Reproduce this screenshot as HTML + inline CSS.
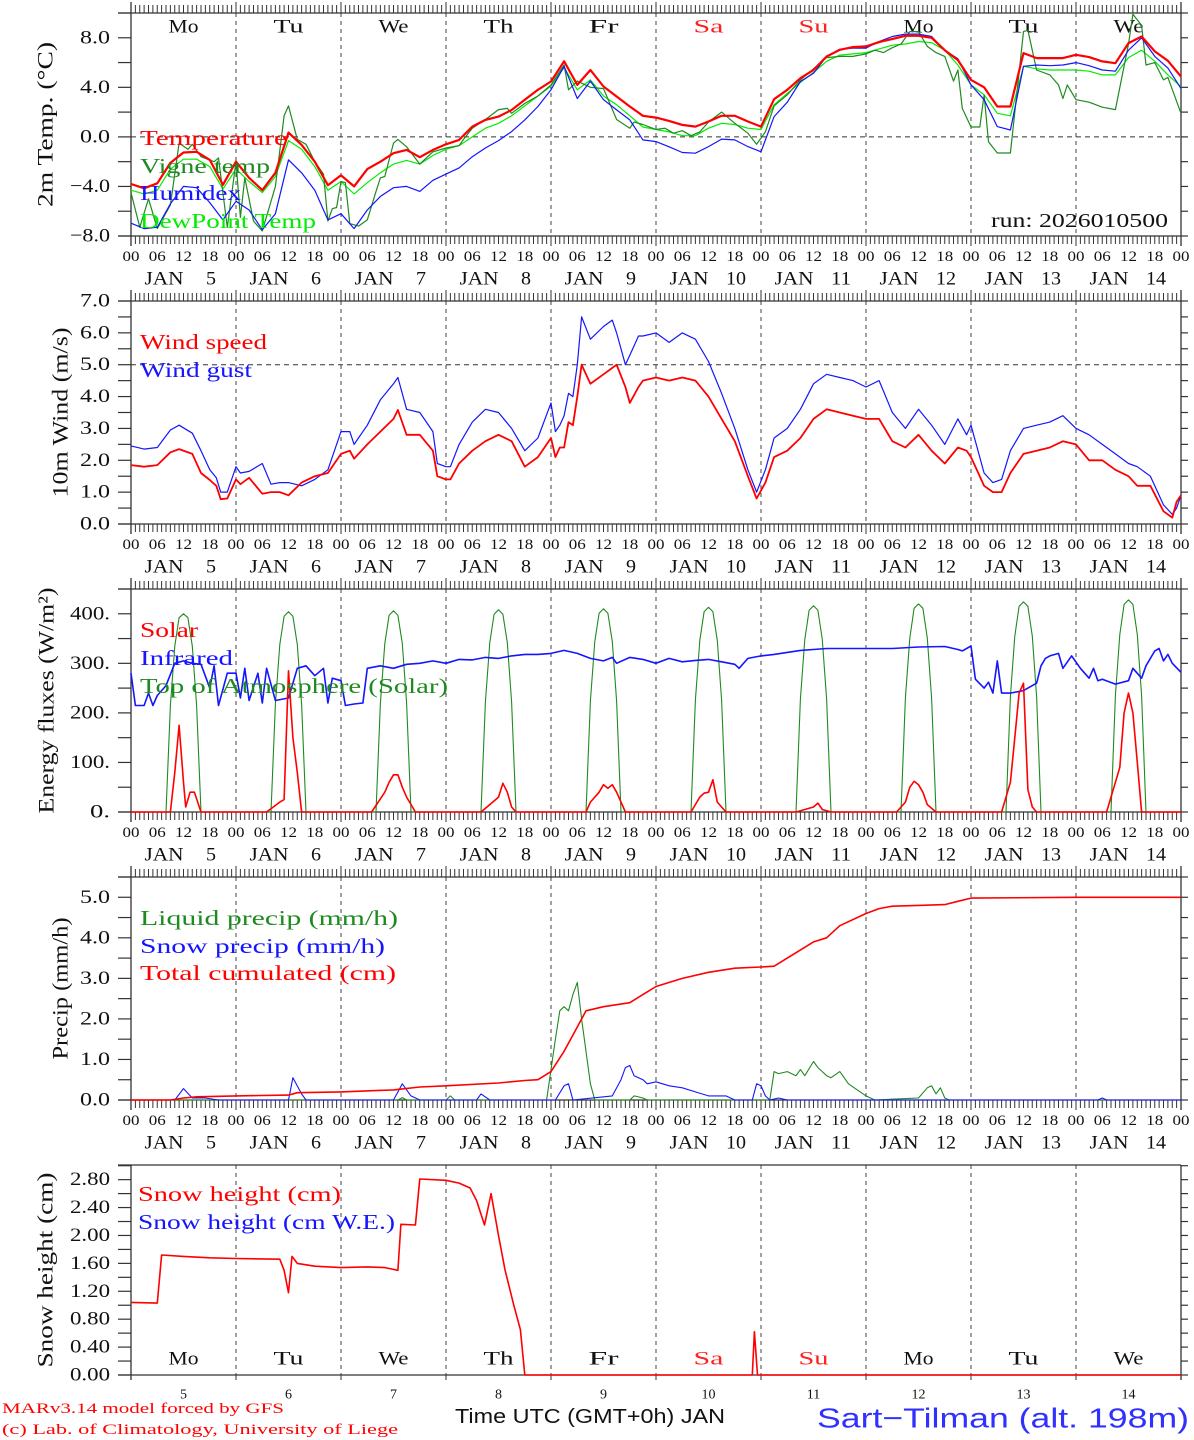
<!DOCTYPE html>
<html><head><meta charset="utf-8"><title>MAR meteogram Sart-Tilman</title>
<style>
html,body{margin:0;padding:0;background:#fff;}
svg{display:block;font-family:"Liberation Serif",serif;}
</style></head>
<body>
<svg id="chart" width="1194" height="1440" viewBox="0 0 1194 1440" xmlns="http://www.w3.org/2000/svg"></svg>
<script>
// ---------- DATA ----------
const dayNames = ["Mo","Tu","We","Th","Fr","Sa","Su","Mo","Tu","We"];
const dayNums = ["5","6","7","8","9","10","11","12","13","14"];
const hours3 = [0,3,6,9,12,15,18,21,24,27,30,33,36,39,42,45,48,51,54,57,60,63,66,69,72,75,78,81,84,87,90,93,96,99,102,105,108,111,114,117,120,123,126,129,132,135,138,141,144,147,150,153,156,159,162,165,168,171,174,177,180,183,186,189,192,195,198,201,204,207,210,213,216,219,222,225,228,231,234,237,240];
const tempVals = [-3.8,-4.15,-3.75,-2.1,-1.26,-1.2,-1.86,-3.87,-2.0,-3.3,-4.3,-2.9,0.35,-0.65,-2.0,-3.9,-3.1,-4.0,-2.6,-2.0,-1.32,-1.05,-1.64,-1.05,-0.6,-0.24,0.83,1.37,1.64,2.17,2.99,3.8,4.47,6.1,4.2,5.4,4.07,3.26,2.45,1.7,1.56,1.29,0.97,0.83,1.24,1.7,1.7,1.24,0.83,3.04,3.8,4.74,5.41,6.49,7.03,7.25,7.3,7.65,7.9,8.16,8.16,8.0,7.0,6.2,4.6,4.0,2.45,2.45,6.76,6.36,6.36,6.36,6.63,6.44,6.09,5.95,7.57,8.1,6.9,6.14,4.87];
const dewVals = [-4.3,-4.6,-4.3,-2.6,-1.8,-1.8,-2.4,-4.2,-2.6,-3.6,-4.5,-3.2,-0.3,-1.0,-2.4,-4.3,-3.6,-4.6,-3.7,-2.9,-2.2,-1.9,-2.2,-1.5,-1.0,-0.7,0.0,0.7,1.1,1.7,2.5,3.3,4.1,5.6,3.8,4.6,3.3,2.6,1.7,0.8,0.6,0.4,0.1,0.1,0.7,1.1,1.0,0.7,0.6,2.6,3.5,4.4,5.2,6.1,6.6,6.7,6.8,7.1,7.4,7.5,7.7,7.6,7.0,5.8,4.2,3.4,1.9,1.7,5.7,5.5,5.4,5.4,5.4,5.3,5.0,5.0,6.4,7.0,6.1,5.0,4.05];
const humidexVals = [-6.97,-7.4,-7.3,-5.4,-4.0,-4.1,-5.3,-6.7,-5.2,-5.9,-7.5,-6.2,-1.85,-2.9,-4.3,-6.7,-6.2,-7.4,-5.9,-4.8,-4.1,-4.0,-4.4,-3.5,-3.0,-2.5,-1.6,-0.9,-0.3,0.43,1.37,2.45,3.8,5.7,3.1,4.5,3.0,2.18,1.37,-0.24,-0.38,-0.8,-1.26,-1.32,-0.78,-0.18,-0.24,-0.78,-1.2,1.64,2.8,4.47,5.14,6.49,7.08,7.17,7.17,7.7,8.1,8.3,8.3,8.1,7.0,6.3,4.2,3.0,0.83,0.56,5.7,5.8,5.75,5.8,6.0,5.75,5.4,5.3,7.0,8.0,6.5,5.55,3.9];
const vigneHours = [0,2,4,6,9,11,13,14,16,19,20,22,24,25,26,28,30,33,35,36,38,40,42,44,45,46,47,48,49,50,52,54,56,57,58,60,61,63,66,69,72,75,76,78,81,84,86,87,90,93,96,99,100,102,105,108,111,114,115,117,120,122,124,126,128,130,132,135,138,141,143,145,147,150,153,156,159,162,165,168,170,172,174,176,178,180,182,184,186,188,189,190,192,194,195,196,198,201,204,205,207,210,212,213,214,216,219,222,225,228,229,231,232,234,236,237,240];
const vigneVals = [-4.5,-7.3,-5.0,-7.4,-5.5,-0.5,-1.0,-0.6,-1.6,-2.0,-1.7,-7.3,-2.0,-6.5,-3.3,-6.8,-7.6,-4.0,1.7,2.5,-0.2,-0.6,-2.0,-3.0,-6.8,-5.8,-5.7,-3.6,-3.7,-7.0,-7.2,-6.7,-4.4,-3.3,-3.2,-0.5,-0.2,-0.8,-2.2,-1.2,-0.9,-0.7,-0.2,0.7,1.4,2.2,2.3,1.9,2.7,3.3,4.2,5.8,3.8,4.5,4.0,3.9,1.4,0.7,1.2,1.0,0.6,0.7,0.3,0.5,0.1,0.4,1.2,2.0,1.1,0.3,-0.6,0.4,2.5,3.4,4.6,5.5,6.4,6.5,6.5,6.7,7.0,6.8,7.2,7.5,8.5,8.5,7.3,6.8,6.5,4.5,5.4,2.3,0.8,0.8,3.4,-0.4,-1.3,-1.3,8.5,8.6,5.4,5.0,4.2,3.1,4.2,3.0,2.8,2.4,2.2,7.5,9.9,9.0,5.8,6.0,4.6,4.8,1.9];
const windHours = [0,3,6,9,11,14,16,18,19.5,20.5,22,24,25,27,30,32,34,36,39,42,45,48,50,51,54,57,60,61,63,66,69,70,72,73,75,78,81,84,87,90,93,96,97,98,99,100,101,102,103,105,108,110,111,113,114,116,117,120,123,126,129,132,135,138,141,143,145,147,150,153,156,159,162,165,168,171,174,177,180,183,186,189,191,192,195,197,199,201,204,207,210,213,216,219,222,225,228,230,233,236,238,239,240];
const windSpeed = [1.85,1.8,1.85,2.25,2.35,2.2,1.6,1.38,1.2,0.78,0.8,1.4,1.25,1.45,0.95,1.0,1.0,0.9,1.3,1.5,1.6,2.2,2.3,2.05,2.5,2.9,3.3,3.58,2.8,2.8,2.3,1.5,1.4,1.4,1.9,2.3,2.6,2.8,2.6,1.8,2.1,2.7,2.1,2.4,2.4,3.2,3.1,4.0,5.0,4.4,4.7,4.9,5.0,4.3,3.8,4.3,4.5,4.6,4.5,4.6,4.5,4.0,3.3,2.6,1.5,0.8,1.3,2.1,2.3,2.7,3.3,3.6,3.5,3.4,3.3,3.3,2.6,2.4,2.8,2.3,1.9,2.4,2.3,2.1,1.2,1.0,1.0,1.6,2.2,2.3,2.4,2.6,2.5,2.0,2.0,1.7,1.5,1.2,1.2,0.4,0.2,0.7,0.9];
const windGust = [2.45,2.35,2.4,2.95,3.1,2.85,2.3,1.7,1.45,1.0,1.0,1.8,1.6,1.65,1.9,1.25,1.3,1.3,1.2,1.4,1.7,2.9,2.9,2.5,3.1,3.9,4.4,4.6,3.6,3.5,2.9,1.9,1.8,1.8,2.5,3.2,3.6,3.5,3.0,2.3,2.7,3.8,2.9,3.1,3.4,4.1,4.0,5.0,6.5,5.8,6.2,6.4,6.0,5.0,5.3,5.9,5.9,6.0,5.7,6.0,5.8,5.1,4.1,3.0,1.7,1.0,1.7,2.7,3.0,3.6,4.4,4.7,4.6,4.5,4.3,4.5,3.5,3.0,3.6,3.1,2.5,3.3,2.8,3.1,1.6,1.3,1.4,2.3,3.0,3.1,3.2,3.4,3.0,2.8,2.5,2.2,1.9,1.8,1.5,0.6,0.3,0.5,0.9];
const irHours = [0,1,3,4,5,6,8,10,12,14,16,18,19,20,22,24,25,26,27,29,30,31,33,36,38,40,42,44,45,46,48,49,51,53,54,57,60,63,66,69,72,75,78,81,84,87,90,93,96,99,102,105,108,110,111,114,117,120,123,126,129,132,135,138,139,141,144,147,150,153,156,159,162,168,174,180,186,189,190,192,193,195,196,197,198,199,201,204,207,208,209,210,212,213,215,217,219,220,221,222,225,228,229,231,232,234,235,236,237,238,240];
const irVals = [280,215,215,240,215,235,255,300,305,300,298,250,295,215,280,280,230,290,225,280,220,290,225,230,290,295,275,290,220,270,265,215,218,220,290,295,290,298,300,305,300,308,307,312,310,315,318,318,320,326,320,310,305,312,300,312,308,300,310,303,306,308,303,298,290,310,315,318,322,326,328,330,330,330,330,333,334,328,325,335,268,250,262,240,305,240,240,245,260,295,310,315,320,290,315,290,270,290,265,268,258,265,290,270,295,325,330,305,318,300,282];
const solarHours = [0,9,10,11,12,12.5,13.5,14.5,16,31,34,35,36,37,38,39,55,58,59,60,61,62,63,65,80,82,84,85,86,87,88,104,105,107,108,109,110,111,112,113,128,130,131,132,133,134,136,152,154,156,157,158,160,175,177,178,179,180,181,182,184,199,201,202,203,204,205,206,207,223,225,226,227,228,229,230,231,240];
const solarVals = [0,0,80,175,60,10,40,40,0,0,20,25,285,150,80,0,0,40,60,75,75,50,30,0,0,15,30,58,40,10,0,0,20,40,55,48,55,40,20,0,0,30,38,40,65,20,0,0,5,10,18,5,0,0,20,50,62,55,40,15,0,0,60,150,240,260,45,10,0,0,60,90,200,240,200,100,0,0];
const toaHours = [0,8,9,10,11,12,13,14,15,16,32,33,34,35,36,37,38,39,40,56,57,58,59,60,61,62,63,64,80,81,82,83,84,85,86,87,88,104,105,106,107,108,109,110,111,112,128,129,130,131,132,133,134,135,136,152,153,154,155,156,157,158,159,160,176,177,178,179,180,181,182,183,184,200,201,202,203,204,205,206,207,208,224,225,226,227,228,229,230,231,232,240];
const toaVals = [0,0,215,335,392,400,392,335,215,0,0,218,338,395,404,395,338,218,0,0,220,340,397,406,397,340,220,0,0,222,342,399,408,399,342,222,0,0,224,344,401,410,401,344,224,0,0,226,346,404,413,404,346,226,0,0,228,348,407,416,407,348,228,0,0,230,351,411,420,411,351,230,0,0,233,355,415,424,415,355,233,0,0,235,358,419,428,419,358,235,0,0];
const precipHours = [0,9,12,15,24,36,38,48,60,66,72,84,90,93,96,99,102,104,108,114,117,120,126,132,138,144,147,150,156,159,162,168,171,174,180,186,189,192,216,240];
const totalCum = [0,0,0.05,0.08,0.1,0.12,0.18,0.2,0.25,0.32,0.35,0.42,0.48,0.5,0.7,1.2,1.8,2.2,2.3,2.4,2.6,2.8,3.0,3.15,3.25,3.28,3.3,3.5,3.9,4.0,4.3,4.6,4.72,4.78,4.8,4.82,4.9,4.98,5.0,5.0];
const liquidHours = [0,61,62,63,72,73,74,95,97,98,99,100,101,102,103,104,105,106,114,115,117,118,146,147,148,150,152,153,154,156,157,158,159,160,162,164,166,168,170,180,182,183,184,185,186,187,240];
const liquidVals = [0,0,0.06,0,0,0.1,0,0,1.5,2.2,2.3,2.2,2.6,2.9,2.0,1.2,0.4,0,0,0.1,0.05,0,0,0.7,0.65,0.7,0.6,0.75,0.6,0.95,0.8,0.7,0.6,0.55,0.7,0.4,0.25,0.1,0,0.05,0.3,0.35,0.15,0.3,0.05,0,0];
const snowPHours = [0,10,12,14,17,20,36,37,39,40,60,62,64,66,79,80,82,97,99,100,101,110,112,113,114,115,117,118,120,123,126,129,132,136,138,142,143,144,145,146,148,150,221,222,223,240];
const snowPVals = [0,0,0.28,0.05,0.05,0,0,0.55,0.15,0,0,0.4,0.1,0,0,0.15,0,0,0.35,0.4,0,0.1,0.5,0.8,0.85,0.6,0.5,0.4,0.45,0.35,0.3,0.2,0.1,0.1,0,0,0.4,0.35,0.1,0,0.05,0,0,0.05,0,0];
const snowHHours = [0,6,7,12,18,24,34,35,36,36.8,38,42,48,54,58,61,61.7,65,66,72,75,77.5,79,80.8,82.3,84,85.5,87.5,89,90,142,142.5,143.2,240];
const snowHVals = [1.04,1.03,1.72,1.70,1.68,1.67,1.66,1.5,1.18,1.70,1.6,1.56,1.54,1.55,1.54,1.50,2.16,2.15,2.81,2.79,2.75,2.68,2.5,2.15,2.6,2.0,1.5,1.0,0.65,0,0,0.62,0,0];
const p1LabelVals = [-8,-4,0,4,8];
const p1Labels = ["−8.0","−4.0","0.0","4.0","8.0"];
const p2LabelVals = [0,1,2,3,4,5,6,7];
const p2Labels = ["0.0","1.0","2.0","3.0","4.0","5.0","6.0","7.0"];
const p3LabelVals = [0,100,200,300,400];
const p3Labels = ["0.","100.","200.","300.","400."];
const p4LabelVals = [0,1,2,3,4,5];
const p4Labels = ["0.0","1.0","2.0","3.0","4.0","5.0"];
const p5LabelVals = [0,0.4,0.8,1.2,1.6,2.0,2.4,2.8];
const p5Labels = ["0.00","0.40","0.80","1.20","1.60","2.00","2.40","2.80"];

// ---------- DRAWING ----------
const NS = "http://www.w3.org/2000/svg";
const svg = document.getElementById("chart");
const X0 = 131, X1 = 1181;
const X = h => X0 + h * (X1 - X0) / 240;

function mk(tag, attrs, parent, name) {
  const el = document.createElementNS(NS, tag);
  for (const k in attrs) el.setAttribute(k, attrs[k]);
  
  
  (parent || svg).appendChild(el);
  return el;
}
function txt(x, y, s, size, color, anchor, name, len, extra) {
  const a = {x: x, y: y, "font-size": size, fill: color, "text-anchor": anchor || "start", "dominant-baseline": "central"};
  if (len) { a.textLength = len; a.lengthAdjust = "spacingAndGlyphs"; }
  if (extra) for (const k in extra) a[k] = extra[k];
  const t = mk("text", a, svg, name);
  t.textContent = s;
  return t;
}
function line(x1, y1, x2, y2, stroke, w, name, dash) {
  const a = {x1: x1, y1: y1, x2: x2, y2: y2, stroke: stroke, "stroke-width": w};
  if (dash) a["stroke-dasharray"] = dash;
  return mk("line", a, svg, name);
}
function series(hs, vs, Y, color, w, name) {
  let d = "";
  for (let i = 0; i < hs.length; i++) d += (i ? "L" : "M") + X(hs[i]).toFixed(1) + "," + Y(vs[i]).toFixed(1);
  return mk("path", {d: d, fill: "none", stroke: color, "stroke-width": w, "stroke-linejoin": "round"}, svg, name);
}

const panels = [
  {id: "temp", top: 13, bot: 236, min: -8, max: 10, minorStep: 2, lv: p1LabelVals, lb: p1Labels, title: "2m Temp. (°C)", tx: 45, tl: 165, hourTicks: true},
  {id: "wind", top: 301, bot: 524, min: 0, max: 7, minorStep: 0.5, lv: p2LabelVals, lb: p2Labels, title: "10m Wind (m/s)", tx: 60, tl: 170, hourTicks: true},
  {id: "energy", top: 589, bot: 812, min: 0, max: 450, minorStep: 50, lv: p3LabelVals, lb: p3Labels, title: "Energy fluxes (W/m²)", tx: 46, tl: 226, hourTicks: true},
  {id: "precip", top: 877, bot: 1100, min: 0, max: 5.5, minorStep: 0.5, lv: p4LabelVals, lb: p4Labels, title: "Precip (mm/h)", tx: 60, tl: 142, hourTicks: true},
  {id: "snow", top: 1165, bot: 1375, min: 0, max: 3.01, minorStep: 0.2, lv: p5LabelVals, lb: p5Labels, title: "Snow height (cm)", tx: 45, tl: 195, hourTicks: false}
];
panels.forEach(p => { p.Y = v => p.bot - (v - p.min) / (p.max - p.min) * (p.bot - p.top); });

panels.forEach(p => {
  for (let d = 1; d < 10; d++) line(X(d * 24), p.top, X(d * 24), p.bot, "#444", 1, p.id + "-day-gridline", "4,4");
  line(118, p.top, X1, p.top, "#333", 1.3, p.id + "-frame-top");
  line(118, p.bot, X1, p.bot, "#333", 1.3, p.id + "-frame-bottom");
  line(X0, p.hourTicks ? p.top - 11 : p.top, X0, p.bot + (p.hourTicks ? 10 : 5), "#333", 1.3, p.id + "-y-axis");
  line(X1, p.hourTicks ? p.top - 11 : p.top, X1, p.bot + (p.hourTicks ? 10 : 5), "#333", 1.3, p.id + "-right-axis");
  for (let v = p.min; v <= p.max + 1e-6; v += p.minorStep) {
    const y = p.Y(v);
    line(118, y, X0, y, "#333", 1.2, p.id + "-y-tick");
    line(X1, y, X1 + 7, y, "#333", 1.2, p.id + "-y-tick-right");
  }
  for (let i = 0; i < p.lv.length; i++) {
    const s = p.lb[i];
    txt(110, p.Y(p.lv[i]), s, 19, "#111", "end", p.id + "-y-tick-label", s.length * 10);
  }
  const cy = (p.top + p.bot) / 2;
  txt(p.tx, cy, p.title, 22, "#111", "middle", p.id + "-y-axis-title", p.tl, {transform: "rotate(-90 " + p.tx + " " + cy + ")"});
  if (p.hourTicks) {
    for (let h = 0; h <= 240; h++) {
      const x = X(h);
      const L = h % 24 === 0 ? 11 : 8;
      line(x, p.top - L, x, p.top, "#333", 1, p.id + "-x-minor-tick-top");
      line(x, p.bot, x, p.bot + (h % 24 === 0 ? 10 : 8), "#333", 1, p.id + "-x-minor-tick-bottom");
    }
    const ly = p.bot + 21, dy = p.bot + 43;
    for (let d = 0; d < 10; d++) {
      const hh = ["00", "06", "12", "18"];
      for (let k = 0; k < 4; k++) txt(X(d * 24 + k * 6), ly, hh[k], 15, "#111", "middle", p.id + "-x-hour-label", 17);
      txt(X(d * 24) + 33, dy, "JAN", 19, "#111", "middle", p.id + "-x-date-label", 39);
      txt(X(d * 24) + 80, dy, dayNums[d], 19, "#111", "middle", p.id + "-x-date-label", dayNums[d].length * 10);
    }
    txt(X(240), ly, "00", 15, "#111", "middle", p.id + "-x-hour-label", 17);
  } else {
    for (let d = 0; d <= 10; d++) line(X(d * 24), p.bot, X(d * 24), p.bot + 5, "#333", 1, p.id + "-x-day-tick");
  }
});

const P1 = panels[0];
line(X0, P1.Y(0), X1, P1.Y(0), "#333", 1, "temp-zero-line", "5,4");
for (let d = 0; d < 10; d++) txt(X(d * 24 + 12), 27, dayNames[d], 19, (d === 5 || d === 6) ? "#ff2020" : "#111", "middle", "temp-day-name", 30);
series(hours3, dewVals, P1.Y, "#00ee00", 1.2, "dewpoint-line");
series(vigneHours, vigneVals, P1.Y, "#1f8a1f", 1.2, "vigne-temp-line");
series(hours3, humidexVals, P1.Y, "#1515ff", 1.2, "humidex-line");
series(hours3, tempVals, P1.Y, "#ff0000", 2.2, "temperature-line");
txt(140, 138, "Temperature", 21, "#ff0000", "start", "legend-temperature", 147);
txt(140, 166, "Vigne temp", 21, "#1f8a1f", "start", "legend-vigne-temp", 130);
txt(140, 193, "Humidex", 21, "#1515ff", "start", "legend-humidex", 101);
txt(140, 221, "DewPoint Temp", 21, "#00ee00", "start", "legend-dewpoint", 176);
txt(1168, 221, "run: 2026010500", 20, "#111", "end", "run-label", 177);

const P2 = panels[1];
line(X0, P2.Y(5), X1, P2.Y(5), "#333", 1, "wind-5ms-line", "5,4");
series(windHours, windGust, P2.Y, "#1515ff", 1.2, "wind-gust-line");
series(windHours, windSpeed, P2.Y, "#ff0000", 1.8, "wind-speed-line");
txt(140, 342, "Wind speed", 21, "#ff0000", "start", "legend-wind-speed", 127);
txt(140, 370, "Wind gust", 21, "#1515ff", "start", "legend-wind-gust", 112);

const P3 = panels[2];
series(toaHours, toaVals, P3.Y, "#1f8a1f", 1.1, "toa-solar-line");
series(irHours, irVals, P3.Y, "#1515ff", 1.6, "infrared-line");
series(solarHours, solarVals, P3.Y, "#ff0000", 1.6, "solar-line");
txt(140, 630, "Solar", 21, "#ff0000", "start", "legend-solar", 58);
txt(140, 658, "Infrared", 21, "#1515ff", "start", "legend-infrared", 93);
txt(140, 686, "Top of Atmosphere (Solar)", 21, "#1f8a1f", "start", "legend-toa", 308);

const P4 = panels[3];
series(liquidHours, liquidVals, P4.Y, "#1f8a1f", 1.1, "liquid-precip-line");
series(snowPHours, snowPVals, P4.Y, "#1515ff", 1.1, "snow-precip-line");
series(precipHours, totalCum, P4.Y, "#ff0000", 1.6, "total-cumulated-line");
txt(140, 918, "Liquid precip (mm/h)", 21, "#1f8a1f", "start", "legend-liquid-precip", 258);
txt(140, 946, "Snow precip (mm/h)", 21, "#1515ff", "start", "legend-snow-precip", 245);
txt(140, 973, "Total cumulated (cm)", 21, "#ff0000", "start", "legend-total-cumulated", 256);

const P5 = panels[4];
series(snowHHours, snowHVals, P5.Y, "#ff0000", 1.6, "snow-height-line");
txt(138, 1194, "Snow height (cm)", 21, "#ff0000", "start", "legend-snow-height", 203);
txt(138, 1222, "Snow height (cm W.E.)", 21, "#1515ff", "start", "legend-snow-height-we", 257);
for (let d = 0; d < 10; d++) {
  txt(X(d * 24 + 12), 1359, dayNames[d], 19, (d === 5 || d === 6) ? "#ff2020" : "#111", "middle", "snow-day-name", 30);
  txt(X(d * 24 + 12), 1395, dayNums[d], 14, "#111", "middle", "snow-day-number");
}

txt(590, 1417, "Time UTC (GMT+0h) JAN", 20, "#111", "middle", "x-axis-title", 270, {"font-family": "Liberation Sans, sans-serif"});
txt(1189, 1418, "Sart−Tilman (alt. 198m)", 28, "#3030ff", "end", "station-title", 372, {"font-family": "Liberation Sans, sans-serif"});
txt(2, 1409, "MARv3.14 model forced by GFS", 15, "#ff0000", "start", "model-credit", 282);
txt(2, 1430, "(c) Lab. of Climatology, University of Liege", 15, "#ff0000", "start", "copyright-credit", 396);
</script>
</body></html>
